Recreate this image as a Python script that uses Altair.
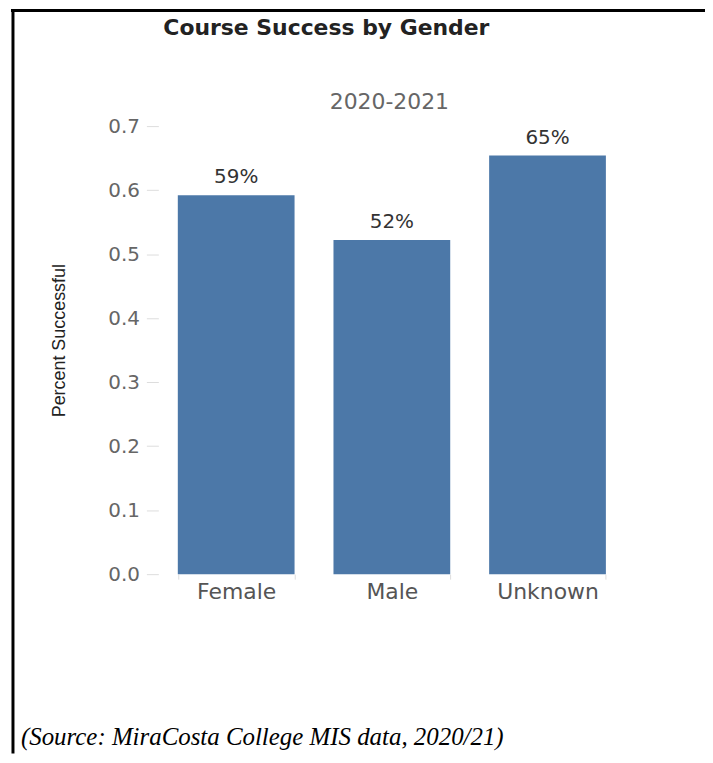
import altair as alt
import pandas as pd

# ---- data ----
genders = ["Female", "Male", "Unknown"]
success = [0.592, 0.522, 0.654]
y_ticks = [0.0, 0.1, 0.2, 0.3, 0.4, 0.5, 0.6, 0.7]

title_text = "Course Success by Gender"
subtitle_text = "2020-2021"
y_title = "Percent Successful"
source_text = "(Source: MiraCosta College MIS data, 2020/21)"

df = pd.DataFrame({"Gender": genders, "Value": success})

W, H = 469, 450
SANS = "DejaVu Sans, Liberation Sans, sans-serif"

x_enc = alt.X(
    "Gender:N",
    sort=genders,
    scale=alt.Scale(paddingInner=0.25, paddingOuter=0.125),
    axis=alt.Axis(
        title=None, labelAngle=0, labelFont=SANS, labelFontSize=22,
        labelColor="#555555", domain=False, tickBand="extent",
        tickColor="#dddddd", tickSize=5, labelPadding=2,
    ),
)
y_enc = alt.Y(
    "Value:Q",
    scale=alt.Scale(domain=[0, 0.7], nice=False, zero=True),
    axis=alt.Axis(
        values=y_ticks, format=".1f", grid=False, domain=False,
        tickColor="#dddddd", tickSize=12, labelPadding=7,
        labelFont=SANS, labelFontSize=20, labelColor="#666666",
        title=y_title,
        titleFont="Liberation Sans, Arial, sans-serif",
        titleFontSize=18, titleFontWeight="normal", titleColor="#222222",
        titleAngle=-90, titleBaseline="alphabetic", titleAlign="center",
        titleX=-94, titleY=215,
    ),
)

bars = alt.Chart(df).mark_bar(color="#4C78A8").encode(x=x_enc, y=y_enc)

labels = alt.Chart(df).mark_text(
    baseline="bottom", dy=-8, font=SANS, fontSize=20, color="#333333"
).encode(
    x=alt.X("Gender:N", sort=genders),
    y="Value:Q",
    text=alt.Text("Value:Q", format=".0%"),
)

one = pd.DataFrame({"t": [title_text], "s": [subtitle_text], "src": [source_text]})

title = alt.Chart(one).mark_text(
    align="left", baseline="alphabetic", font=SANS, fontSize=22,
    fontWeight="bold", color="#222222"
).encode(text="t:N", x=alt.value(5), y=alt.value(-91))

subtitle = alt.Chart(one).mark_text(
    align="center", baseline="alphabetic", font=SANS, fontSize=22,
    color="#666666"
).encode(text="s:N", x=alt.value(232), y=alt.value(-17))

source = alt.Chart(one).mark_text(
    align="left", baseline="alphabetic", font="Liberation Serif, Times New Roman, serif",
    fontSize=25, fontStyle="italic", color="#000000"
).encode(text="src:N", x=alt.value(-138), y=alt.value(622))

border_top = alt.Chart(one).mark_rule(color="#000000", strokeWidth=3).encode(
    x=alt.value(-148), x2=alt.value(560), y=alt.value(-116)
)
border_left = alt.Chart(one).mark_rule(color="#000000", strokeWidth=3).encode(
    x=alt.value(-146), y=alt.value(-117), y2=alt.value(630)
)

chart = alt.layer(
    bars, labels, title, subtitle, source, border_top, border_left
).properties(
    width=W,
    height=H,
    autosize=alt.AutoSizeParams(type="none"),
    padding={"left": 151, "top": 117, "right": 80, "bottom": 180},
    background="white",
).configure_view(stroke=None)

chart.save("out.html", embed_options={"renderer": "svg", "actions": False})
